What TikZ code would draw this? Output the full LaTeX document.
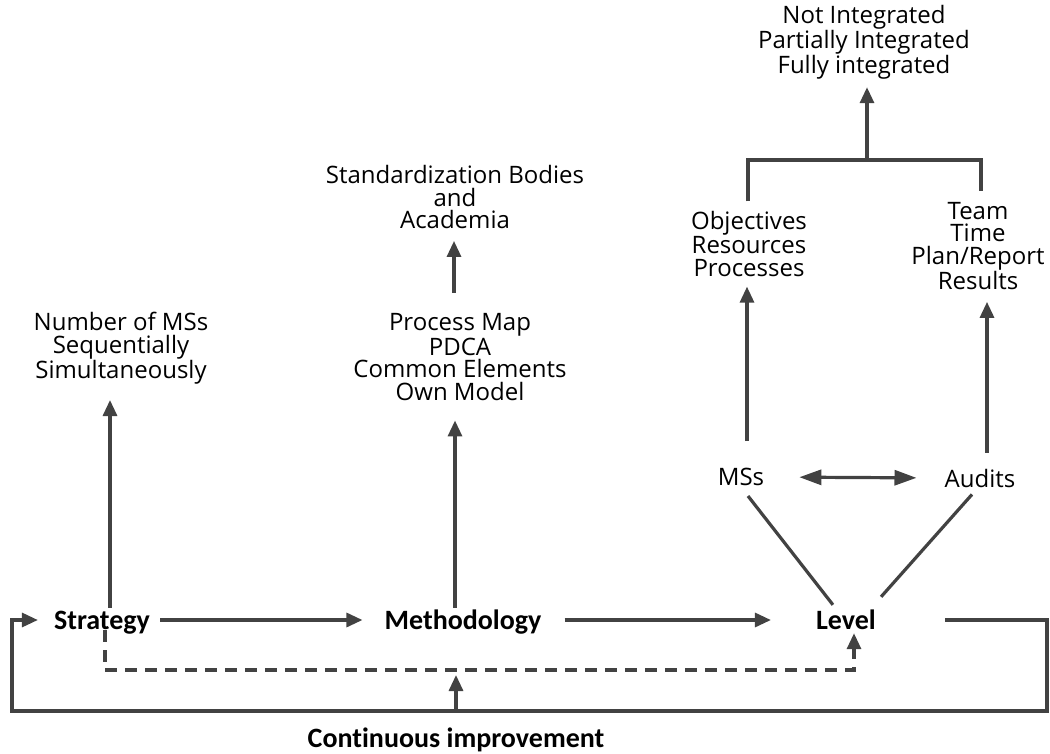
\documentclass[tikz,border=0pt]{standalone}
\usepackage{fontspec}
\setmainfont{Open Sans}
\newfontfamily\carlito{Carlito}[Ligatures={NoCommon,NoContextual,NoRare,NoRequired}]
\usetikzlibrary{arrows.meta,calc}

\definecolor{linegray}{HTML}{424242}

\tikzset{
  lbl/.style={inner sep=0pt, align=center, font=\fontsize{24}{22.5}\selectfont},
  key/.style={inner sep=0pt, text height=18pt, text depth=0pt,
              font=\carlito\bfseries\fontsize{28}{30}\selectfont},
  conn/.style={draw=linegray, line width=3.2pt},
  arr/.style={conn, -{Triangle[length=16pt,width=14pt]}},
  dblarr/.style={conn, {Triangle[length=22pt,width=15pt]}-{Triangle[length=22pt,width=15pt]}},
  dasharr/.style={arr, dash pattern=on 12pt off 8pt},
}

\begin{document}
\begin{tikzpicture}[x=1pt, y=-1pt]
\useasboundingbox (0,0) rectangle (1050,753);

% main chain
\node[key] (str)  at (102,620) {Strategy};
\node[key] (meth) at (463,620) {Methodology};
\node[key] (lev)  at (846,620) {Level};
% the kern keeps the t and i as separate glyphs
\node[key] (ci)   at (456,738) {Cont\kern0pt inuous improvement};

% options of each step
\node[lbl] (msn) at (121,348) {Number of MSs\\Sequentially\\Simultaneously};
\node[lbl] (pm)  at (460,357) {Process Map\\PDCA\\Common Elements\\Own Model};
\node[lbl] (std) at (455,197) {Standardization Bodies\\and\\Academia};

% level of integration
\node[lbl] (mss)  at (741,477) {MSs};
\node[lbl] (aud)  at (980,478) {Audits};
\node[lbl] (obj)  at (749,244) {Objectives\\Resources\\Processes};
\node[lbl] (team) at (978,246) {Team\\Time\\Plan/Report\\Results};
\node[lbl] (ni)   at (864,42)  {Not Integrated\\Partially Integrated\\Fully integrated};

\coordinate (join)    at (867,160);
\coordinate (loopR)   at (1047,711);
\coordinate (loopL)   at (12,711);
\coordinate (ciJoin)  at (456,711);
\coordinate (dashMid) at (456,670);

% chain arrows
\draw[arr, shorten <=10pt, shorten >=22pt] (str.east) -- (meth.west);
\draw[arr, shorten <=23pt, shorten >=45pt] (meth.east) -- (lev.west);

% step to its options
\draw[arr] ($(str.north)+(8,-3)$) -- ($(str.north |- msn.south)+(8,16)$);
\draw[arr] ($(meth.north)+(-8,-3)$) -- ($(meth.north |- pm.south)+(-8,20)$);
\draw[arr] ($(pm.north)+(-6,-21)$) -- ($(pm.north |- std.south)+(-6,12)$);

% level branches
\draw[arr] ($(mss.north)+(6,-27)$) -- ($(mss.north |- obj.south)+(6,10)$);
\draw[arr] ($(aud.north)+(7,-16)$) -- ($(aud.north |- team.south)+(7,12)$);
\draw[dblarr, shorten <=35pt, shorten >=28pt] (mss.east) -- (aud.west);
\draw[conn] ($(mss.south)+(7,10)$) -- ($(lev.north west)+(17,-6)$);
\draw[conn] ($(aud.south)+(-8,7)$) -- ($(lev.north east)+(5,-14)$);

% branches joined towards the integration degree
\draw[conn] ($(obj.north)+(-1,-10)$) -- ($(obj.north |- join)+(-1,0)$)
  -- ($(team.north |- join)+(3,0)$) -- ($(team.north)+(3,-11)$);
\draw[arr, shorten >=8pt] (join) -- (join |- ni.south);

% feedback loop
\draw[arr, shorten >=16pt] ($(lev.east)+(69,0)$) -- (lev.east -| loopR) -- (loopR)
  -- (loopL) -- (loopL |- str.west) -- (str.west);
\draw[arr, shorten >=5pt] (ciJoin) -- (dashMid);
\draw[dasharr] ($(str.south)+(3,1)$) |- (dashMid) -| ($(lev.south)+(8,4)$);
\end{tikzpicture}
\end{document}
